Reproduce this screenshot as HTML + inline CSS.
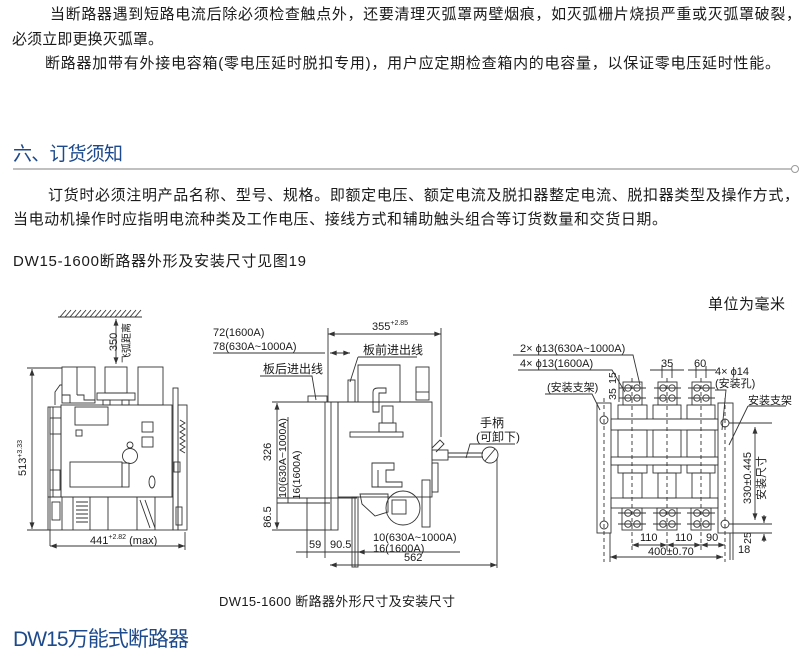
<!DOCTYPE html>
<html><head><meta charset="utf-8">
<style>
html,body{margin:0;padding:0;background:#fff;}
svg{display:block;}
text{font-family:"Liberation Sans","Noto Sans CJK SC",sans-serif;fill:#1a1a1a;}
.b{fill:#1d4a8c;}
.d{stroke:#333;stroke-width:0.9;fill:none;}
.dash{stroke:#333;stroke-width:0.9;stroke-dasharray:4,3;fill:none;}
</style></head>
<body>
<svg width="811" height="658" viewBox="0 0 811 658" xmlns="http://www.w3.org/2000/svg">
<defs>
<marker id="a" viewBox="0 0 8 6" refX="8" refY="3" markerWidth="7" markerHeight="5" orient="auto-start-reverse" markerUnits="userSpaceOnUse"><path d="M0,0 L8,3 L0,6z" fill="#333"/></marker>
</defs>

<!-- top paragraphs -->
<text x="50" y="19" font-size="15" textLength="751" lengthAdjust="spacing">当断路器遇到短路电流后除必须检查触点外，还要清理灭弧罩两壁烟痕，如灭弧栅片烧损严重或灭弧罩破裂，</text>
<text x="12" y="44" font-size="15" textLength="151" lengthAdjust="spacing">必须立即更换灭弧罩。</text>
<text x="45" y="68" font-size="15" textLength="735" lengthAdjust="spacing">断路器加带有外接电容箱(零电压延时脱扣专用)，用户应定期检查箱内的电容量，以保证零电压延时性能。</text>

<!-- heading -->
<text x="13" y="160" font-size="19" class="b" textLength="110" lengthAdjust="spacing">六、订货须知</text>
<line x1="13" y1="169" x2="791" y2="169" stroke="#9a9a9a" stroke-width="1.2"/>
<circle cx="795" cy="169" r="3.5" fill="#fff" stroke="#9a9a9a" stroke-width="1"/>

<text x="48" y="200" font-size="15" textLength="751" lengthAdjust="spacing">订货时必须注明产品名称、型号、规格。即额定电压、额定电流及脱扣器整定电流、脱扣器类型及操作方式，</text>
<text x="13" y="224" font-size="15" textLength="654" lengthAdjust="spacing">当电动机操作时应指明电流种类及工作电压、接线方式和辅助触头组合等订货数量和交货日期。</text>
<text x="13" y="266" font-size="15" textLength="293" lengthAdjust="spacing">DW15-1600断路器外形及安装尺寸见图19</text>

<text x="708" y="309" font-size="15" textLength="77" lengthAdjust="spacing">单位为毫米</text>

<!-- ================= LEFT DRAWING ================= -->
<g class="d">
<line x1="58" y1="317" x2="142" y2="317"/>
<path d="M60,317 l6,-7 M65,317 l6,-7 M70,317 l6,-7 M75,317 l6,-7 M80,317 l6,-7 M85,317 l6,-7 M90,317 l6,-7 M95,317 l6,-7 M100,317 l6,-7 M105,317 l6,-7 M110,317 l6,-7 M115,317 l6,-7 M120,317 l6,-7 M125,317 l6,-7 M130,317 l6,-7 M135,317 l6,-7"/>
<line x1="116" y1="319" x2="116" y2="364" marker-start="url(#a)" marker-end="url(#a)"/>
<line x1="32" y1="369" x2="32" y2="529" marker-start="url(#a)" marker-end="url(#a)"/>
<line x1="27" y1="368" x2="62" y2="368"/>
<line x1="27" y1="530" x2="50" y2="530"/>
<rect x="62" y="367" width="33" height="36"/>
<line x1="77" y1="367" x2="77" y2="395"/>
<path d="M62,395 L70,395 L70,403 M77,395 L84,395 L84,400 L95,400"/>
<path d="M55,405 L55,392 L60,385 L62,385"/>
<rect x="105" y="367" width="22" height="26"/>
<rect x="97" y="393" width="38" height="7"/>
<rect x="103" y="400" width="7" height="5"/>
<rect x="122" y="400" width="7" height="5"/>
<rect x="138" y="367" width="25" height="38"/>
<rect x="61" y="405" width="111" height="92"/>
<rect x="75" y="407" width="33" height="18"/>
<rect x="76" y="430" width="6" height="6"/>
<rect x="142" y="422" width="11" height="10"/>
<rect x="142" y="437" width="11" height="10"/>
<circle cx="130" cy="456" r="7.5"/>
<circle cx="130" cy="445" r="3"/>
<rect x="70" y="462" width="52" height="25"/>
<rect x="122" y="463" width="7" height="24"/>
<ellipse cx="152" cy="482" rx="3" ry="6"/>
<rect x="48" y="407" width="13" height="90"/>
<line x1="53" y1="407" x2="53" y2="497"/>
<rect x="50" y="418" width="11" height="16"/>
<rect x="50" y="470" width="10" height="20"/>
<line x1="50" y1="407" x2="50" y2="546"/>
<rect x="48" y="497" width="125" height="33"/>
<path d="M62,497 L62,530 M73,497 L73,530 M90,497 L90,530 M108,497 L108,530 M137,497 L137,530 M155,497 L155,530"/>
<path d="M76,502 L88,502 M76,506 L88,506 M76,510 L88,510 M76,514 L88,514 M76,518 L88,518 M76,522 L88,522"/>
<rect x="52" y="502" width="8" height="18"/>
<path d="M140,500 L150,528 M145,500 L155,528"/>
<rect x="173" y="388" width="5" height="142"/>
<rect x="178" y="405" width="9" height="125"/>
<path d="M180,420 l5,3 l-5,3 l5,3 l-5,3 l5,3 l-5,3 l5,3 l-5,3 l5,3 l-5,3 l5,3"/>
<rect x="174" y="462" width="6" height="10"/>
<rect x="176" y="507" width="6" height="18"/>
<line x1="185" y1="532" x2="185" y2="550"/>
<line x1="50" y1="546" x2="185" y2="546" marker-start="url(#a)" marker-end="url(#a)"/>
</g>
<text transform="translate(117,342) rotate(-90)" font-size="11" text-anchor="middle">350</text>
<text transform="translate(130,343) rotate(-90)" font-size="10" text-anchor="middle">飞弧距离</text>
<text transform="translate(26,458) rotate(-90)" font-size="11" text-anchor="middle">513<tspan font-size="7" dy="-4">+3.33</tspan></text>
<text x="90" y="544" font-size="11">441<tspan font-size="7" dy="-5">+2.82</tspan><tspan dy="5"> (max)</tspan></text>

<!-- ================= MIDDLE DRAWING ================= -->
<text x="213" y="336" font-size="11">72(1600A)</text>
<text x="213" y="350" font-size="11">78(630A~1000A)</text>
<text x="372" y="330" font-size="11">355<tspan font-size="7" dy="-5">+2.85</tspan></text>
<text x="363" y="354" font-size="12">板前进出线</text>
<text x="263" y="373" font-size="12">板后进出线</text>
<text x="480" y="427" font-size="12">手柄</text>
<text x="476" y="441" font-size="12">(可卸下)</text>
<text transform="translate(271,452) rotate(-90)" font-size="11" text-anchor="middle">326</text>
<text transform="translate(271,517) rotate(-90)" font-size="11" text-anchor="middle">86.5</text>
<text transform="translate(286,458) rotate(-90)" font-size="10.5" text-anchor="middle">10(630A~1000A)</text>
<text transform="translate(300,475) rotate(-90)" font-size="10.5" text-anchor="middle">16(1600A)</text>
<text x="309" y="548" font-size="11">59</text>
<text x="330" y="548" font-size="11">90.5</text>
<text x="373" y="541" font-size="11">10(630A~1000A)</text>
<text x="373" y="552" font-size="11">16(1600A)</text>
<text x="404" y="561" font-size="11">562</text>
<g class="d">
<line x1="213" y1="353" x2="325" y2="353"/>
<line x1="330" y1="353" x2="350" y2="353" marker-start="url(#a)" marker-end="url(#a)"/>
<line x1="328" y1="334" x2="441" y2="334" marker-start="url(#a)" marker-end="url(#a)"/>
<line x1="328" y1="328" x2="328" y2="402"/>
<line x1="441" y1="328" x2="441" y2="437"/>
<path d="M358,357 L417,357 M358,357 L350,382"/>
<path d="M260,376 L312,376 L316,400"/>
<line x1="272" y1="402" x2="432" y2="402"/>
<rect x="338" y="402" width="94" height="95"/>
<rect x="325" y="402" width="13" height="128"/>
<line x1="331" y1="402" x2="331" y2="530"/>
<path d="M358,402 L358,365 L400,365 L400,402"/>
<rect x="416" y="367" width="13" height="33"/>
<line x1="416" y1="392" x2="429" y2="392"/>
<rect x="348" y="380" width="7" height="22"/>
<rect x="308" y="396" width="19" height="6"/>
<path d="M373,412 L373,392 Q373,388 378,388 L386,388 L386,393 L379,393 L379,412 Z"/>
<rect x="382" y="406" width="11" height="17"/>
<rect x="379" y="423" width="17" height="9"/>
<rect x="350" y="432" width="53" height="5"/>
<path d="M372,463 L394,463 L394,470 L386,470 L386,482 L402,482 L402,487 L372,487 Z M378,470 L378,487"/>
<circle cx="403" cy="508" r="17"/>
<rect x="392" y="500" width="14" height="14"/>
<path d="M360,494 L388,494 L388,512 L375,516 L362,504 Z"/>
<rect x="352" y="497" width="6" height="70"/>
<line x1="355" y1="497" x2="355" y2="567"/>
<rect x="422" y="480" width="8" height="47"/>
<rect x="432" y="463" width="6" height="29"/>
<path d="M432,448 L440,440 L444,444 L436,452"/>
<rect x="432" y="450" width="16" height="10"/>
<line x1="448" y1="453" x2="483" y2="453"/>
<line x1="448" y1="457" x2="483" y2="457"/>
<circle cx="490" cy="455" r="8"/>
<line x1="485" y1="461" x2="495" y2="449"/>
<path d="M515,444 L470,444 L466,458"/>
<line x1="497" y1="458" x2="497" y2="568"/>
<line x1="330" y1="565" x2="497" y2="565" marker-start="url(#a)" marker-end="url(#a)"/>
<line x1="358" y1="552" x2="460" y2="552" marker-start="url(#a)"/>
<line x1="296" y1="552" x2="358" y2="552"/>
<path d="M307,498 L307,558 M325,530 L325,558"/>
<line x1="277" y1="403" x2="277" y2="529" marker-start="url(#a)" marker-end="url(#a)"/>
<path d="M272,530 L325,530 M277,498 L357,498 M277,503 L330,503"/>
<line x1="288" y1="417" x2="288" y2="503"/>
</g>

<!-- ================= RIGHT DRAWING ================= -->
<text x="520" y="352" font-size="11">2× ϕ13(630A~1000A)</text>
<text x="520" y="367" font-size="11">4× ϕ13(1600A)</text>
<text x="547" y="391" font-size="11">(安装支架)</text>
<text x="661" y="367" font-size="11">35</text>
<text x="694" y="367" font-size="11">60</text>
<text x="715" y="375" font-size="11">4× ϕ14</text>
<text x="715" y="387" font-size="11">(安装孔)</text>
<text x="748" y="404" font-size="11">安装支架</text>
<text transform="translate(616,378) rotate(-90)" font-size="10.5" text-anchor="middle">15</text>
<text transform="translate(616,394) rotate(-90)" font-size="10.5" text-anchor="middle">35</text>
<text transform="translate(751,478) rotate(-90)" font-size="11" text-anchor="middle">330±0.445</text>
<text transform="translate(765,478) rotate(-90)" font-size="11" text-anchor="middle">安装尺寸</text>
<text transform="translate(751,538) rotate(-90)" font-size="10.5" text-anchor="middle">25</text>
<text x="738" y="553" font-size="11">18</text>
<text x="640" y="541" font-size="11">110</text>
<text x="675" y="541" font-size="11">110</text>
<text x="706" y="541" font-size="11">90</text>
<text x="648" y="555" font-size="11">400±0.70</text>
<g class="d">
<path d="M513,355 L633,355 L640,385"/>
<path d="M518,370 L612,370 L625,392"/>
<path d="M545,394 L592,394 L600,410"/>
<path d="M715,390 L726,390 L722,430"/>
<path d="M748,406 L786,406 M748,406 L729,445"/>
<line x1="650" y1="370" x2="684" y2="370"/>
<line x1="688" y1="370" x2="716" y2="370"/>
<path d="M662,366 L662,378 M672,366 L672,378 M696,366 L696,378 M706,366 L706,378"/>
<line x1="619" y1="375" x2="619" y2="402"/>
<rect x="597" y="403" width="14" height="130"/>
<rect x="718" y="403" width="15" height="130"/>
<circle cx="604" cy="420" r="4"/>
<circle cx="604" cy="525" r="4"/>
<circle cx="725" cy="423" r="4"/>
<circle cx="725" cy="524" r="4"/>
<rect x="611" y="419" width="107" height="11"/>
<rect x="611" y="457" width="107" height="8"/>
<rect x="611" y="498" width="107" height="10"/>
<rect x="618" y="405" width="29" height="14"/>
<rect x="653" y="405" width="28" height="14"/>
<rect x="687" y="405" width="28" height="14"/>
<rect x="618" y="430" width="29" height="27"/>
<rect x="653" y="430" width="28" height="27"/>
<rect x="687" y="430" width="28" height="27"/>
<rect x="618" y="465" width="29" height="8"/>
<rect x="653" y="465" width="28" height="8"/>
<rect x="687" y="465" width="28" height="8"/>
<rect x="623" y="473" width="19" height="25"/>
<rect x="658" y="473" width="18" height="25"/>
<rect x="692" y="473" width="18" height="25"/>
<rect x="623" y="382" width="19" height="23"/>
<rect x="658" y="382" width="19" height="23"/>
<rect x="692" y="382" width="19" height="23"/>
<circle cx="628" cy="388" r="3.2"/><circle cx="637" cy="388" r="3.2"/><circle cx="628" cy="398" r="3.2"/><circle cx="637" cy="398" r="3.2"/>
<circle cx="663" cy="388" r="3.2"/><circle cx="672" cy="388" r="3.2"/><circle cx="663" cy="398" r="3.2"/><circle cx="672" cy="398" r="3.2"/>
<circle cx="697" cy="388" r="3.2"/><circle cx="706" cy="388" r="3.2"/><circle cx="697" cy="398" r="3.2"/><circle cx="706" cy="398" r="3.2"/>
<path d="M619,388 L646,388 M619,398 L646,398 M654,388 L681,388 M654,398 L681,398 M688,388 L715,388 M688,398 L715,398"/>
<rect x="622" y="508" width="20" height="22"/>
<rect x="657" y="508" width="20" height="22"/>
<rect x="691" y="508" width="20" height="22"/>
<circle cx="628" cy="513" r="3.3"/><circle cx="637" cy="513" r="3.3"/><circle cx="628" cy="524" r="3.3"/><circle cx="637" cy="524" r="3.3"/>
<circle cx="663" cy="513" r="3.3"/><circle cx="672" cy="513" r="3.3"/><circle cx="663" cy="524" r="3.3"/><circle cx="672" cy="524" r="3.3"/>
<circle cx="697" cy="513" r="3.3"/><circle cx="706" cy="513" r="3.3"/><circle cx="697" cy="524" r="3.3"/><circle cx="706" cy="524" r="3.3"/>
<path d="M618,513 L646,513 M618,524 L646,524 M653,513 L681,513 M653,524 L681,524 M687,513 L715,513 M687,524 L715,524"/>
<path d="M729,423 L772,423 M729,524 L772,524 M733,533 L772,533"/>
<line x1="755" y1="427" x2="755" y2="520" marker-start="url(#a)" marker-end="url(#a)"/>
<line x1="764" y1="515" x2="764" y2="523" marker-end="url(#a)"/>
<line x1="764" y1="542" x2="764" y2="534" marker-end="url(#a)"/>
<path d="M730,533 L730,560 M733,533 L733,560"/>
<line x1="632" y1="545" x2="667" y2="545" marker-start="url(#a)" marker-end="url(#a)"/>
<line x1="667" y1="545" x2="701" y2="545" marker-start="url(#a)" marker-end="url(#a)"/>
<line x1="701" y1="545" x2="725" y2="545" marker-start="url(#a)" marker-end="url(#a)"/>
<line x1="610" y1="557" x2="723" y2="557" marker-start="url(#a)" marker-end="url(#a)"/>
<line x1="610" y1="533" x2="610" y2="562"/>
</g>
<g class="dash">
<line x1="632" y1="378" x2="632" y2="550"/>
<line x1="667" y1="378" x2="667" y2="550"/>
<line x1="701" y1="378" x2="701" y2="550"/>
<line x1="604" y1="398" x2="604" y2="562"/>
<line x1="725" y1="398" x2="725" y2="562"/>
</g>

<text x="219" y="606" font-size="13" textLength="236" lengthAdjust="spacing">DW15-1600 断路器外形尺寸及安装尺寸</text>
<text x="13" y="646" font-size="21" class="b" textLength="176" lengthAdjust="spacing">DW15万能式断路器</text>
</svg>
</body></html>
